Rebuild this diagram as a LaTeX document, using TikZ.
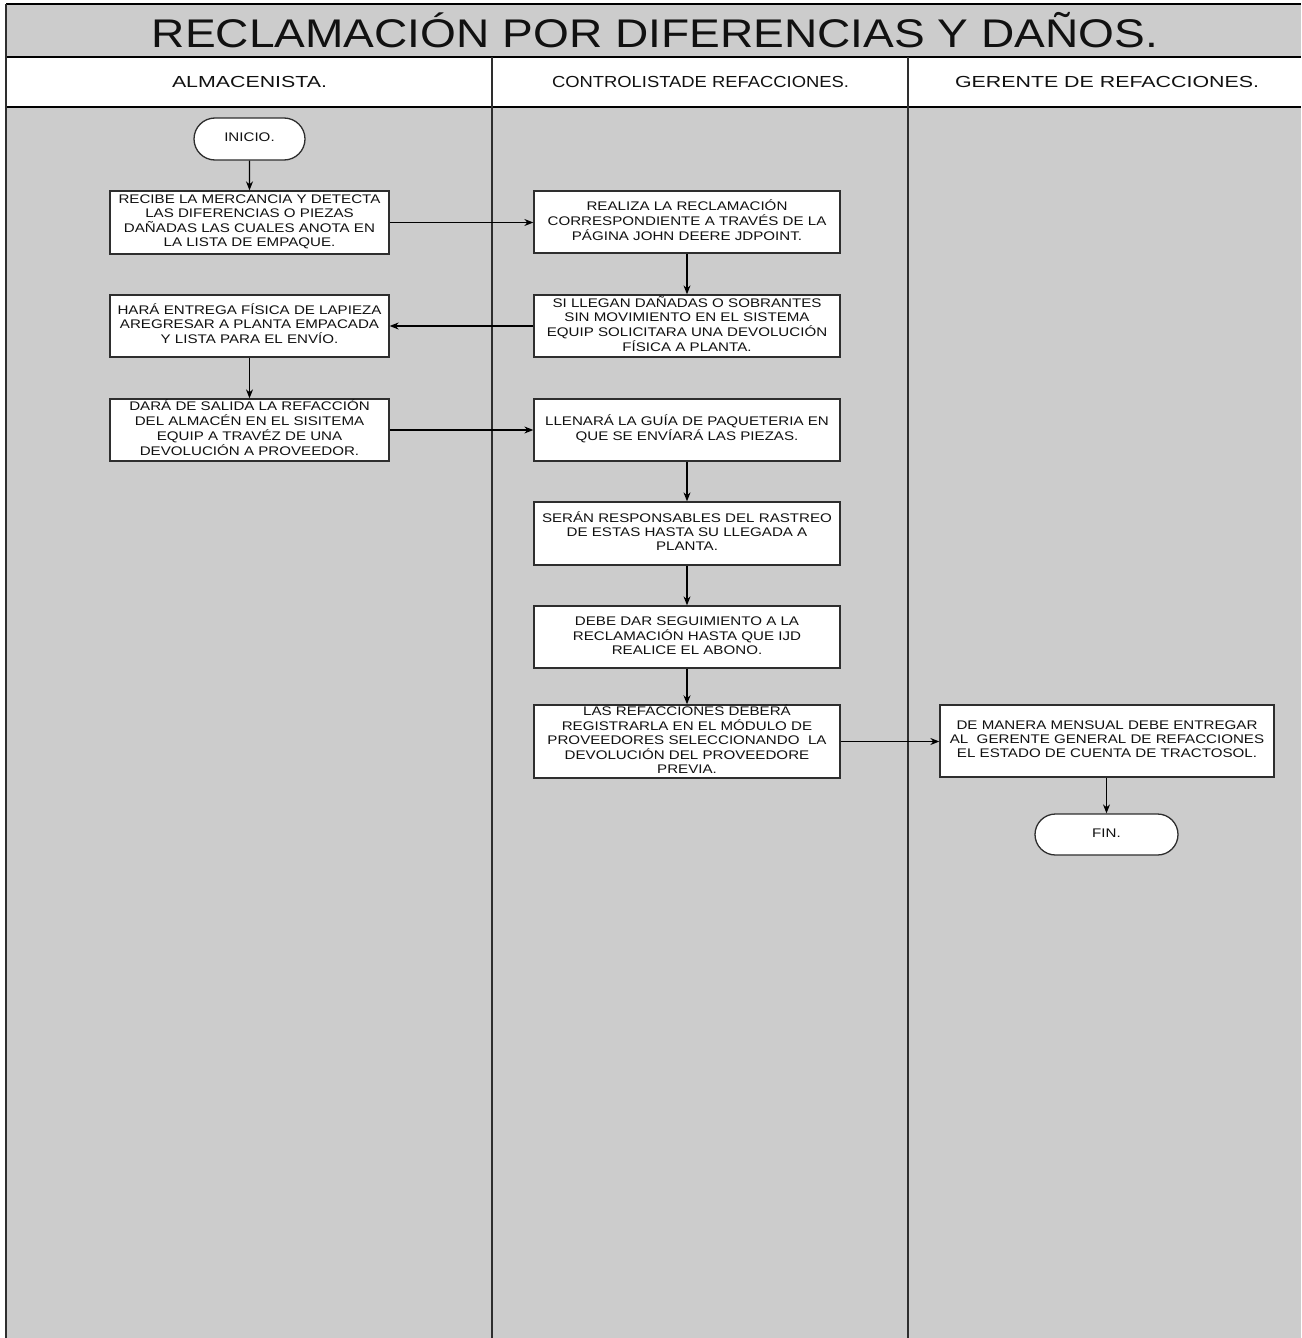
\documentclass[tikz,border=0pt]{standalone}
\usepackage{fontspec}
\setmainfont{Liberation Sans}
\usepackage{graphicx}
\usetikzlibrary{arrows.meta,shapes.misc}
\definecolor{lanegray}{HTML}{CCCCCC}
\definecolor{rulegray}{HTML}{2E2E2E}
\definecolor{inkgray}{HTML}{111111}
% box text: capitals only, slightly widened
\newcommand{\boxtxt}[1]{\scalebox{1.21}[1]{\begin{tabular}{@{}c@{}}#1\end{tabular}}}
\begin{document}
\begin{tikzpicture}[x=1pt,y=-1pt,
  every node/.style={text=inkgray},
  procbox/.style={draw=rulegray, line width=1.3pt, fill=white, rectangle,
    inner sep=0pt, font=\fontsize{12.5}{14}\selectfont},
  termbox/.style={draw=rulegray, line width=1.3pt, fill=white, rounded rectangle,
    inner sep=0pt, font=\fontsize{12.5}{14}\selectfont},
  flow/.style={line width=1.2pt, draw=black, -{Stealth[length=9pt,width=7pt]}},
  lane/.style={line width=2.2pt, draw=rulegray},
  frame/.style={line width=1.5pt, draw=black}]
\useasboundingbox (0,0) rectangle (1301,1338);
% backgrounds: title band, lane headers, lane bodies
\fill[white] (0,0) rectangle (1301,1338);
\fill[lanegray] (6,4) rectangle (1301,57);
\fill[white] (6,57) rectangle (1301,107);
\fill[lanegray] (6,107) rectangle (1301,1338);
% frame and lane dividers
\draw[frame] (6,4) -- (1301,4);
\draw[frame] (6,57) -- (1301,57);
\draw[frame] (6,107) -- (1301,107);
\draw[lane] (6,4) -- (6,1338);
\draw[lane] (492,57) -- (492,1338);
\draw[lane] (908,57) -- (908,1338);
% title and lane headings
\node (title) at (655,30) {\resizebox{1006pt}{\height}{\fontsize{40}{42}\selectfont RECLAMACIÓN POR DIFERENCIAS Y DAÑOS.}};
\node (h1) at (249.5,82) {\resizebox{155pt}{\height}{\fontsize{16}{18}\selectfont ALMACENISTA.}};
\node (h2) at (700.5,82) {\resizebox{297pt}{\height}{\fontsize{16}{18}\selectfont CONTROLISTADE REFACCIONES.}};
\node (h3) at (1107,82) {\resizebox{304pt}{\height}{\fontsize{16}{18}\selectfont GERENTE DE REFACCIONES.}};
% ALMACENISTA lane
\node[termbox, minimum width=111pt, minimum height=42pt] (ini) at (249.5,139) {\boxtxt{INICIO.}};
\node[procbox, minimum width=279pt, minimum height=63pt] (a1) at (249.5,222.5)
  {\boxtxt{RECIBE LA MERCANCIA Y DETECTA\\LAS DIFERENCIAS O PIEZAS\\DAÑADAS LAS CUALES ANOTA EN\\LA LISTA DE EMPAQUE.}};
\node[procbox, minimum width=279pt, minimum height=62pt] (a2) at (249.5,326)
  {\boxtxt{HARÁ ENTREGA FÍSICA DE LAPIEZA\\AREGRESAR A PLANTA EMPACADA\\Y LISTA PARA EL ENVÍO.}};
\node[procbox, minimum width=279pt, minimum height=62pt] (a3) at (249.5,430)
  {\boxtxt{DARÁ DE SALIDA LA REFACCIÓN\\DEL ALMACÉN EN EL SISITEMA\\EQUIP A TRAVÉZ DE UNA\\DEVOLUCIÓN A PROVEEDOR.}};
% CONTROLISTA lane
\node[procbox, minimum width=306pt, minimum height=62pt] (c1) at (687,222)
  {\boxtxt{REALIZA LA RECLAMACIÓN\\CORRESPONDIENTE A TRAVÉS DE LA\\PÁGINA JOHN DEERE JDPOINT.}};
\node[procbox, minimum width=306pt, minimum height=62pt] (c2) at (687,326)
  {\boxtxt{SI LLEGAN DAÑADAS O SOBRANTES\\SIN MOVIMIENTO EN EL SISTEMA\\EQUIP SOLICITARA UNA DEVOLUCIÓN\\FÍSICA A PLANTA.}};
\node[procbox, minimum width=306pt, minimum height=62pt] (c3) at (687,430)
  {\boxtxt{LLENARÁ LA GUÍA DE PAQUETERIA EN\\QUE SE ENVÍARÁ LAS PIEZAS.}};
\node[procbox, minimum width=306pt, minimum height=63pt] (c4) at (687,533.5)
  {\boxtxt{SERÁN RESPONSABLES DEL RASTREO\\DE ESTAS HASTA SU LLEGADA A\\PLANTA.}};
\node[procbox, minimum width=306pt, minimum height=62pt] (c5) at (687,637)
  {\boxtxt{DEBE DAR SEGUIMIENTO A LA\\RECLAMACIÓN HASTA QUE IJD\\REALICE EL ABONO.}};
\node[procbox, minimum width=306pt, minimum height=73pt] (c6) at (687,741.5)
  {\boxtxt{LAS REFACCIONES DEBERÁ\\REGISTRARLA EN EL MÓDULO DE\\PROVEEDORES SELECCIONANDO\ \ LA\\DEVOLUCIÓN DEL PROVEEDORE\\PREVIA.}};
% GERENTE lane
\node[procbox, minimum width=334pt, minimum height=72pt] (g1) at (1107,741)
  {\boxtxt{DE MANERA MENSUAL DEBE ENTREGAR\\AL\ \ GERENTE GENERAL DE REFACCIONES\\EL ESTADO DE CUENTA DE TRACTOSOL.}};
\node[termbox, minimum width=143pt, minimum height=41pt] (fin) at (1106.5,834.5) {\boxtxt{FIN.}};
% flow
\draw[flow] (ini) -- (a1);
\draw[flow] (a1.east) -- (c1.west |- a1.east);
\draw[flow] (c1) -- (c2);
\draw[flow] (c2.west) -- (a2.east |- c2.west);
\draw[flow] (a2) -- (a3);
\draw[flow] (a3.east) -- (c3.west |- a3.east);
\draw[flow] (c3) -- (c4);
\draw[flow] (c4) -- (c5);
\draw[flow] (c5) -- (c6);
\draw[flow] (c6.east) -- (g1.west |- c6.east);
\draw[flow] (g1.south -| fin.north) -- (fin.north);
\end{tikzpicture}
\end{document}
